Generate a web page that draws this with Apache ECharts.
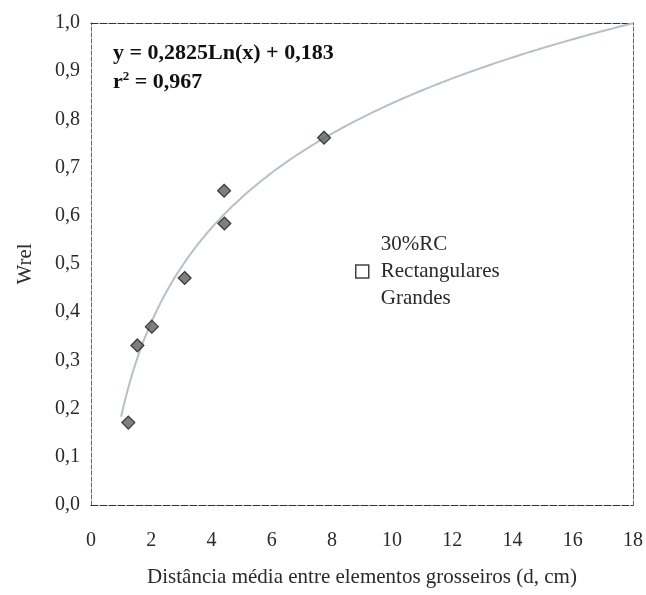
<!DOCTYPE html>
<html>
<head>
<meta charset="utf-8">
<script src="https://cdn.jsdelivr.net/npm/echarts@6/dist/echarts.min.js"></script>
<style>html,body{margin:0;padding:0;background:#fff}#c{width:646px;height:595px}</style>
</head>
<body>
<div id="c"></div>
<script>
// Measured points
const distX = [1.24, 1.54, 2.02, 3.11, 4.43, 4.42, 7.74];
const wrelY = [0.171, 0.331, 0.370, 0.471, 0.584, 0.652, 0.762];
// Trendline coefficients shown on the chart: y = a Ln(x) + b
const trendA = 0.2825;
const trendB = 0.183;
const trendXStart = 1;
const trendXEnd = 18;
const xTicks = [0, 2, 4, 6, 8, 10, 12, 14, 16, 18];
const seriesName = '30%RC\nRectangulares\nGrandes';

const points = distX.map((x, i) => [x, wrelY[i]]);
const trend = [];
for (let k = 0; k <= 170; k++) {
  const x = trendXStart + (trendXEnd - trendXStart) * k / 170;
  trend.push([x, trendA * Math.log(x) + trendB]);
}

const serif = '"Liberation Serif", "DejaVu Serif", serif';
const txt = '#2a2a2a';
const hLine = { show: true, onZero: false, lineStyle: { color: '#333', width: 1.2, type: [7, 2] } };
const vLine = { show: true, onZero: false, lineStyle: { color: '#666', width: 1, type: [4, 2] } };
const chart = echarts.init(document.getElementById('c'));
chart.setOption({
  animation: false,
  backgroundColor: '#fff',
  grid: { left: 91, right: 7, top: 23, bottom: 90 },
  xAxis: [{
    type: 'value', min: 0, max: 18, interval: 2, position: 'bottom',
    axisLine: hLine, axisTick: { show: false }, splitLine: { show: false },
    axisLabel: { fontFamily: serif, fontSize: 20, color: txt, margin: 26,
      formatter: v => xTicks.includes(v) ? String(v) : '' },
    name: 'Distância média entre elementos grosseiros (d, cm)',
    nameLocation: 'middle', nameGap: 62,
    nameTextStyle: { fontFamily: serif, fontSize: 21, color: txt }
  }, {
    type: 'value', min: 0, max: 18, interval: 2, position: 'top',
    axisLine: hLine, axisTick: { show: false }, splitLine: { show: false }, axisLabel: { show: false }
  }],
  yAxis: [{
    type: 'value', min: 0, max: 1, interval: 0.1, position: 'left',
    axisLine: vLine, axisTick: { show: false }, splitLine: { show: false },
    axisLabel: { fontFamily: serif, fontSize: 20, color: txt, margin: 11,
      formatter: v => v.toFixed(1).replace('.', ',') },
    name: 'Wrel', nameLocation: 'middle', nameGap: 55, nameRotate: 90,
    nameTextStyle: { fontFamily: serif, fontSize: 21, color: txt }
  }, {
    type: 'value', min: 0, max: 1, interval: 0.1, position: 'right',
    axisLine: vLine, axisTick: { show: false }, splitLine: { show: false }, axisLabel: { show: false }
  }],
  legend: {
    left: 350, top: 226, orient: 'vertical',
    itemWidth: 13, itemHeight: 13,
    textStyle: { fontFamily: serif, fontSize: 21, color: txt, lineHeight: 27, padding: [0, 0, 0, 7] },
    data: [{ name: seriesName, icon: 'rect', itemStyle: { color: '#fff', borderColor: '#111', borderWidth: 1.5 } }]
  },
  graphic: [
    { type: 'text', left: 113, top: 42, style: { text: 'y = 0,2825Ln(x) + 0,183', font: 'bold 22px ' + serif, fill: '#111' } },
    { type: 'text', left: 113, top: 70, style: {
      text: '{a|r}{s|2}{a| = 0,967}',
      rich: {
        a: { font: 'bold 22px ' + serif, fill: '#111', verticalAlign: 'bottom' },
        s: { font: 'bold 13px ' + serif, fill: '#111', verticalAlign: 'top', padding: [0, 0, 10, 0] }
      } } }
  ],
  series: [
    { name: 'trend', type: 'line', data: trend, showSymbol: false, smooth: false,
      lineStyle: { color: '#b4c1ca', width: 2 }, z: 1 },
    { name: seriesName, type: 'scatter', data: points, symbol: 'diamond', symbolSize: 13,
      itemStyle: { color: '#5e5e5e', borderColor: '#1a1a1a', borderWidth: 1.2 }, z: 3 }
  ]
});
</script>
</body>
</html>
